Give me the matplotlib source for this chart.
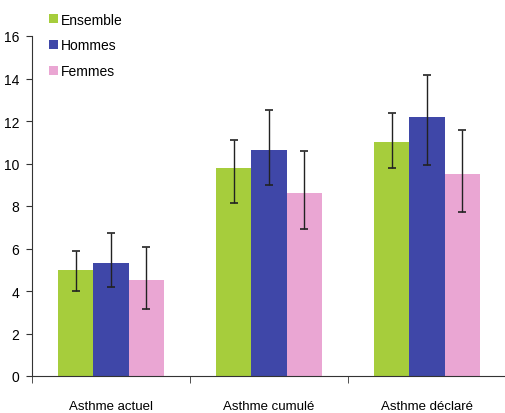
import matplotlib.pyplot as plt
import numpy as np

plt.rcParams['font.family'] = ['Liberation Sans', 'DejaVu Sans']

categories = ['Asthme actuel', 'Asthme cumulé', 'Asthme déclaré']
series = ['Ensemble', 'Hommes', 'Femmes']
values = {
    'Ensemble': [5.0, 9.8, 11.0],
    'Hommes': [5.3, 10.65, 12.2],
    'Femmes': [4.5, 8.6, 9.5],
}
err_low = {
    'Ensemble': [4.0, 8.15, 9.8],
    'Hommes': [4.2, 9.0, 9.95],
    'Femmes': [3.15, 6.9, 7.7],
}
err_high = {
    'Ensemble': [5.9, 11.1, 12.4],
    'Hommes': [6.75, 12.5, 14.15],
    'Femmes': [6.05, 10.6, 11.6],
}
colors = {'Ensemble': '#a6cd3c', 'Hommes': '#3f47a8', 'Femmes': '#eaa6d3'}

fig = plt.figure(figsize=(5.05, 4.14), dpi=100)
ax = fig.add_axes([32 / 505, 37 / 414, 474 / 505, 340 / 414])

x = np.arange(len(categories))
w = 0.222
for i, s in enumerate(series):
    v = np.array(values[s])
    lo = v - np.array(err_low[s])
    hi = np.array(err_high[s]) - v
    ax.bar(x + (i - 1) * w, v, w, color=colors[s], label=s, zorder=2)
    ax.errorbar(x + (i - 1) * w, v, yerr=[lo, hi], fmt='none', ecolor='#222222',
                elinewidth=1, capsize=3, capthick=1.2, zorder=3)

ax.set_xlim(-0.5, 2.5)
ax.set_ylim(0, 16)
ax.set_yticks(range(0, 17, 2))
ax.set_xticks(x)
ax.set_xticklabels(categories)
ax.set_xticks([-0.5, 0.5, 1.5], minor=True)
ax.tick_params(axis='x', which='major', length=0, pad=17, labelsize=9.5)
ax.tick_params(axis='x', which='minor', length=5, direction='out', color='#333333')
ax.tick_params(axis='y', length=4, direction='out', labelsize=10, color='#333333', pad=5)
for side in ['top', 'right']:
    ax.spines[side].set_visible(False)
ax.spines['left'].set_color('#333333')
ax.spines['bottom'].set_color('#333333')
ax.spines['left'].set_bounds(0, 16)

ax.legend(loc='upper left', bbox_to_anchor=(0.025, 1.085), frameon=False,
          fontsize=10, handlelength=0.6, handleheight=0.6, handletextpad=0.2,
          labelspacing=0.85, borderaxespad=0)

fig.savefig('out.png', dpi=100)
